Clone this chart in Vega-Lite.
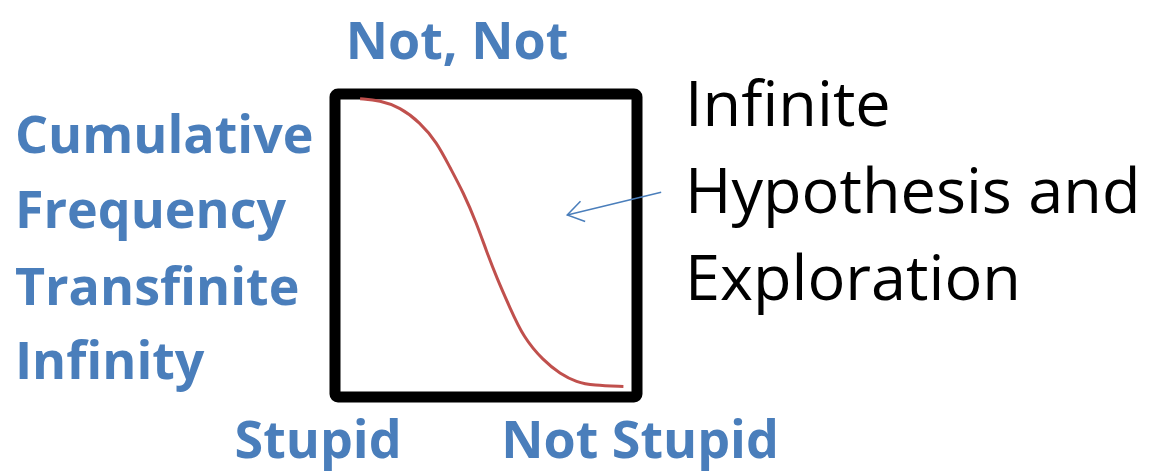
{
  "$schema": "https://vega.github.io/schema/vega-lite/v6.json",
  "width": 302,
  "height": 303,
  "autosize": {"type": "none"},
  "padding": {"left": 335, "top": 94, "right": 516, "bottom": 76},
  "background": "white",
  "view": {"stroke": "black", "strokeWidth": 11, "cornerRadius": 3},
  "config": {"axis": {"disable": true}},
  "datasets": {
    "curve": [
      {"x": 8.3, "y": 98.4},
      {"x": 14.9, "y": 97.9},
      {"x": 21.5, "y": 95.6},
      {"x": 28.1, "y": 90.7},
      {"x": 33.7, "y": 84.1},
      {"x": 38.1, "y": 75.7},
      {"x": 42.5, "y": 67.5},
      {"x": 46.9, "y": 57.3},
      {"x": 50.2, "y": 48.0},
      {"x": 53.5, "y": 39.5},
      {"x": 57.9, "y": 29.5},
      {"x": 62.4, "y": 19.7},
      {"x": 69.0, "y": 12.0},
      {"x": 74.5, "y": 7.7},
      {"x": 80.0, "y": 4.9},
      {"x": 85.5, "y": 3.8},
      {"x": 95.5, "y": 3.5}
    ],
    "axislabels": [
      {"label": "Not, Not", "x": 40.4, "y": 111.7},
      {"label": "Stupid", "x": -5.6, "y": -20},
      {"label": "Not Stupid", "x": 101, "y": -20}
    ],
    "ylabel": [
      {"label": "Cumulative", "x": -106, "y": 80.4},
      {"label": "Frequency", "x": -106, "y": 55.9},
      {"label": "Transfinite", "x": -106, "y": 30.5},
      {"label": "Infinity", "x": -106, "y": 6.1}
    ],
    "note": [
      {"label": "Infinite", "x": 115.9, "y": 89.6},
      {"label": "Hypothesis and", "x": 115.9, "y": 60.6},
      {"label": "Exploration", "x": 115.9, "y": 31.9}
    ],
    "arrow": [
      {"x": 108.0, "y": 67.6, "x2": 76.9, "y2": 60.1}
    ]
  },
  "layer": [
    {
      "data": {"name": "curve"},
      "mark": {"type": "line", "color": "#c0504d", "strokeWidth": 3, "interpolate": "basis"},
      "encoding": {
        "x": {"field": "x", "type": "quantitative", "scale": {"domain": [0, 100], "nice": false, "zero": false}},
        "y": {"field": "y", "type": "quantitative", "scale": {"domain": [0, 100], "nice": false, "zero": false}}
      }
    },
    {
      "data": {"name": "arrow"},
      "mark": {"type": "rule", "color": "#4a7ebb", "strokeWidth": 1.5},
      "encoding": {
        "x": {"field": "x", "type": "quantitative"},
        "y": {"field": "y", "type": "quantitative"},
        "x2": {"field": "x2"},
        "y2": {"field": "y2"}
      }
    },
    {
      "data": {"name": "arrow"},
      "mark": {"type": "point", "shape": "M 2 -1.3 L 0 0 L 2 1.3", "size": 256, "filled": false, "stroke": "#4a7ebb", "strokeWidth": 1.5, "opacity": 1, "angle": -13},
      "encoding": {
        "x": {"field": "x2", "type": "quantitative"},
        "y": {"field": "y2", "type": "quantitative"}
      }
    },
    {
      "data": {"name": "axislabels"},
      "mark": {"type": "text", "font": "Open Sans", "fontWeight": "bold", "fontSize": 52, "color": "#4a7ebb", "align": "center", "baseline": "alphabetic"},
      "encoding": {
        "x": {"field": "x", "type": "quantitative"},
        "y": {"field": "y", "type": "quantitative"},
        "text": {"field": "label"}
      }
    },
    {
      "data": {"name": "ylabel"},
      "mark": {"type": "text", "font": "Open Sans", "fontWeight": "bold", "fontSize": 52, "color": "#4a7ebb", "align": "left", "baseline": "alphabetic"},
      "encoding": {
        "x": {"field": "x", "type": "quantitative"},
        "y": {"field": "y", "type": "quantitative"},
        "text": {"field": "label"}
      }
    },
    {
      "data": {"name": "note"},
      "mark": {"type": "text", "font": "Open Sans", "fontSize": 63, "color": "black", "align": "left", "baseline": "alphabetic"},
      "encoding": {
        "x": {"field": "x", "type": "quantitative"},
        "y": {"field": "y", "type": "quantitative"},
        "text": {"field": "label"}
      }
    }
  ]
}
